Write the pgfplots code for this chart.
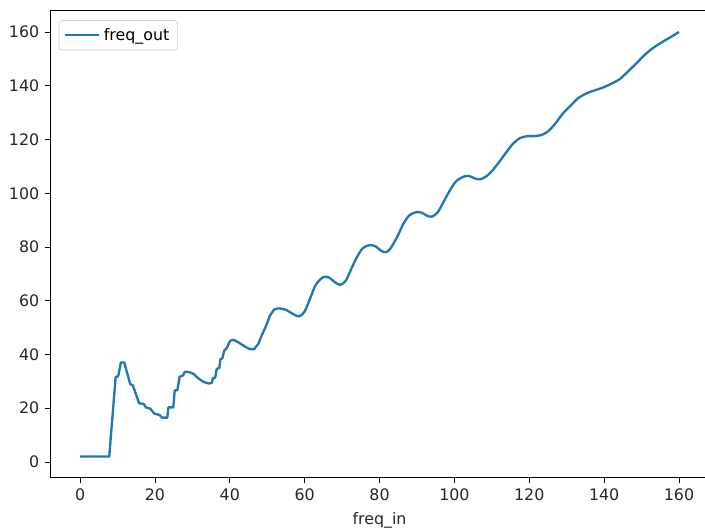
\documentclass[border=0pt]{standalone}
\usepackage{fontspec}
\setmainfont{DejaVu Sans}
\usepackage{pgfplots}
\pgfplotsset{compat=1.18}
\definecolor{c0}{HTML}{1F77B4}
\begin{document}
\begin{tikzpicture}
\begin{axis}[
  scale only axis,
  width=395pt, height=280pt,
  xmin=-8, xmax=168, ymin=-5.9, ymax=167.9,
  xtick={0,20,...,160}, ytick={0,20,...,160},
  /pgf/number format/assume math mode=true,
  tick align=outside, major tick length=3pt,
  tick style={black, line width=0.5pt},
  xtick pos=bottom, ytick pos=left,
  axis line style={black, line width=0.6pt},
  tick label style={font=\fontsize{9.5}{11}\selectfont, text=black!85},
  xlabel={freq\_in},
  xlabel style={font=\fontsize{9.5}{11}\selectfont, text=black!85},
  legend style={at={(0.013,0.98)}, anchor=north west, draw=black!20, rounded corners=2pt,
    font=\fontsize{9.5}{11}\selectfont, inner xsep=3pt, inner ysep=2.5pt},
  legend cell align=left,
  legend image code/.code={\draw[#1, line width=1.4pt] (0cm,0cm) -- (0.72cm,0cm);},
]
\addplot[c0, line width=1.4pt, line join=round] coordinates {
(0,2) (7.8,2) (9.5,31.5) (10.2,32) (10.9,37) (11.8,37) (13.4,29) (14.1,28.5)
(15.8,21.8) (17.0,21.6) (17.6,20.3) (18.8,19.8) (19.8,18) (21.2,17.5) (21.9,16.5)
(23.3,16.5) (23.6,20.3) (24.9,20.3) (25.3,26.7) (26.0,26.7) (26.6,31.7) (27.5,32.2)
(28.0,33.6) (29.2,33.4) (30.3,32.8) (31.6,31.1) (33.0,29.8) (34.3,29.2) (35.2,29.4)
(35.5,31.2) (36.1,31.4) (36.5,34.6) (37.2,35) (37.5,38.3) (38.0,38.5) (38.5,41.4)
(39.2,42.4) (40.1,45.1) (41.0,45.5) (42.3,44.5) (44.1,42.9) (45.4,42.0) (46.5,42.0)
(47.6,43.9) (48.5,47.0) (49.7,50.7) (50.7,54.4) (51.8,56.7) (53.0,57.2)
};
\addlegendentry{freq\_out}
\addplot[c0, line width=1.4pt, smooth, tension=0.5, forget plot] coordinates {
(53,57.2) (55,56.6) (57,55) (58.5,54.2) (60,56) (61.5,61) (63,66) (65,68.8)
(66.5,68.6) (68,67) (69.5,65.9) (71,67.5) (72.5,72) (74,76.3) (75.5,79.5)
(77.3,80.7) (79,80.2) (80.5,78.5) (81.8,78.1) (83,79.6) (84.8,84) (86.4,88.7)
(88,91.8) (89.9,93) (91.5,92.6) (93,91.4) (94,91.3) (95.5,92.8) (97,96.5)
(98.8,101.1) (100.5,104.5) (102.5,106.2) (104,106.4) (105.5,105.5) (107,105.2)
(108.5,106.3) (110,108.2) (112,111.7) (114,115.5) (115.7,118.5) (117.5,120.5)
(119.3,121.2) (121.5,121.3) (123.3,121.7) (125,123) (127,126) (129,129.7)
(131,132.5) (133,135.3) (135.3,137.2) (137.5,138.3) (140,139.5) (142,140.8)
(144,142.3) (146,144.8) (148.5,148.2) (151,151.7) (153,154) (155.8,156.5)
(158,158.3) (160,160)
};
\coordinate (LL) at (axis cs:0,0);
\coordinate (UR) at (axis cs:160,160);
\end{axis}
\pgfresetboundingbox
\useasboundingbox ([xshift=-48pt,yshift=-41.5pt]LL) rectangle ([xshift=15.6pt,yshift=19.2pt]UR);
\end{tikzpicture}
\end{document}
